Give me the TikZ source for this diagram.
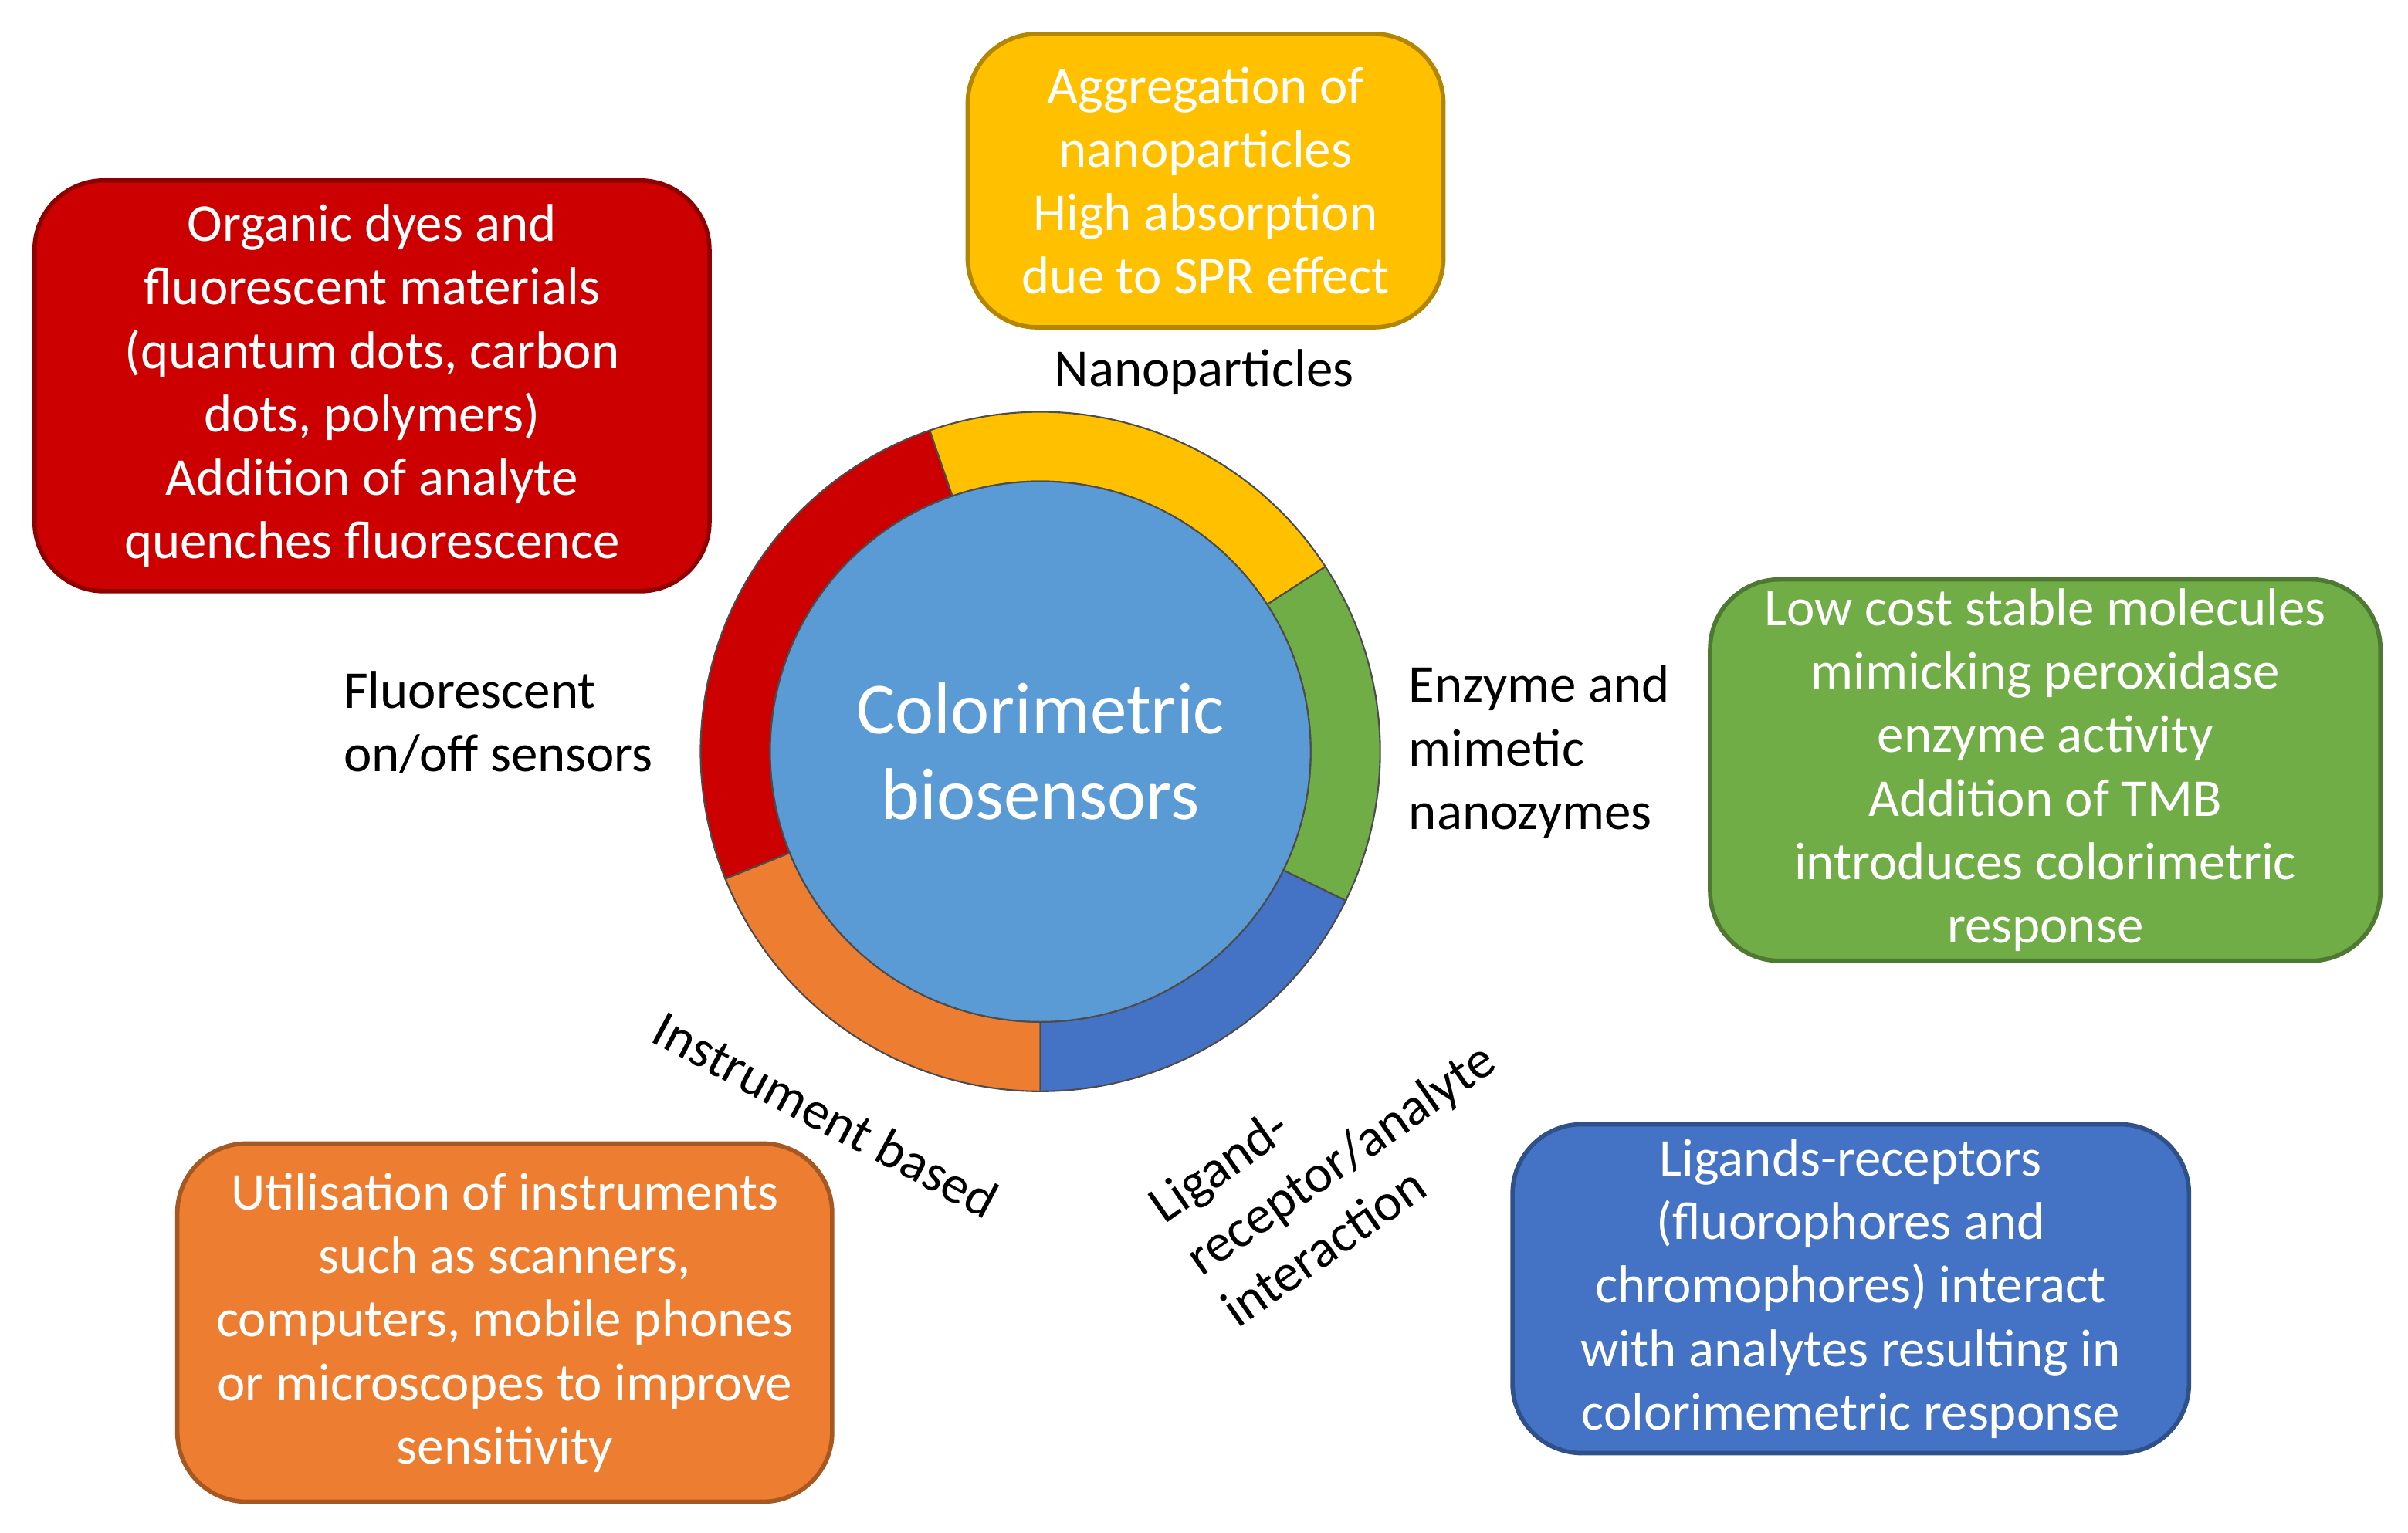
\documentclass[tikz,border=0pt]{standalone}
\usepackage{fontspec}
\setmainfont{Carlito}
\usetikzlibrary{calc}
\begin{document}
\begin{tikzpicture}[x=0.01cm,y=-0.01cm,
 box/.style={rounded corners=0.45cm,draw=#1!70!black,fill=#1,line width=0.8pt,text=white,align=center,font=\fontsize{9.8}{11.7}\selectfont,inner sep=0pt},
 lab/.style={font=\fontsize{9.8}{11.7}\selectfont,align=left,inner sep=0pt}]
\definecolor{cred}{HTML}{CC0000}
\definecolor{cyel}{HTML}{FFC000}
\definecolor{cgrn}{HTML}{70AD47}
\definecolor{cblu}{HTML}{4472C4}
\definecolor{corg}{HTML}{ED7D31}
\definecolor{ccir}{HTML}{5B9BD5}
\useasboundingbox (0,0) rectangle (1560,993);
\coordinate (c) at (674,487);
\foreach \a/\b/\col in {109/202/cred,202/270/corg,270/334/cblu,334/393/cgrn,393/469/cyel}{
 \fill[\col,draw=gray!60!black,line width=0.3pt] (c) ++(\a:2.2cm) arc[start angle=\a,end angle=\b,radius=2.2cm] -- ($(c)+(\b:1.75cm)$) arc[start angle=\b,end angle=\a,radius=1.75cm] -- cycle;
}
\node[circle,fill=ccir,draw=gray!60!black,line width=0.3pt,minimum size=3.5cm,text=white,align=center,font=\fontsize{13.5}{15.8}\selectfont] (cc) at (c) {Colorimetric\\biosensors};
\node[box=cyel,minimum width=3.08cm,minimum height=1.9cm] (y) at (781,117) {Aggregation of\\nanoparticles\\High absorption\\due to SPR effect};
\node[box=cred,minimum width=4.37cm,minimum height=2.66cm] (r) at (241,250) {Organic dyes and\\fluorescent materials\\(quantum dots, carbon\\dots, polymers)\\Addition of analyte\\quenches fluorescence};
\node[box=cgrn,minimum width=4.34cm,minimum height=2.47cm] (g) at (1325,499) {Low cost stable molecules\\mimicking peroxidase\\enzyme activity\\Addition of TMB\\introduces colorimetric\\response};
\node[box=cblu,minimum width=4.38cm,minimum height=2.13cm] (b) at (1199,835) {Ligands-receptors\\(fluorophores and\\chromophores) interact\\with analytes resulting in\\colorimemetric response};
\node[box=corg,minimum width=4.24cm,minimum height=2.32cm] (o) at (327,857) {Utilisation of instruments\\such as scanners,\\computers, mobile phones\\or microscopes to improve\\sensitivity};
\node[lab] (ln) at (780,241) {Nanoparticles};
\node[lab,anchor=west] (lf) at (222,468) {Fluorescent\\on/off sensors};
\node[lab,anchor=west] (le) at (912,487) {Enzyme and\\mimetic\\nanozymes};
\node[lab,rotate=-28] (li) at (535,722) {Instrument based};
\node[lab,rotate=35,align=left] (ll) at (868,750) {Ligand-\\receptor/analyte\\interaction};
\end{tikzpicture}
\end{document}
